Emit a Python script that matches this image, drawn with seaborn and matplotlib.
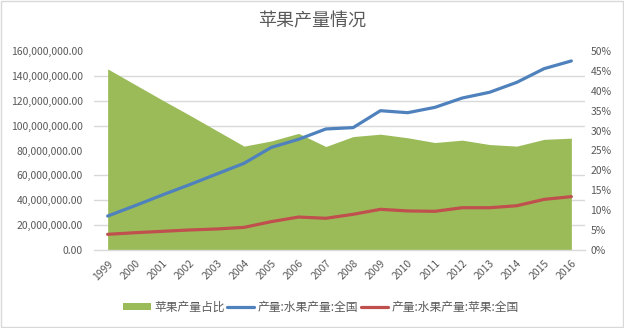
import matplotlib
matplotlib.use("Agg")
import matplotlib.pyplot as plt
import seaborn as sns
import numpy as np
from matplotlib.ticker import MultipleLocator, FuncFormatter, FixedLocator
from matplotlib.patches import Patch, Rectangle
from matplotlib.lines import Line2D

years = ["1999", "2000", "2001", "2002", "2003", "2004", "2005", "2006", "2007",
         "2008", "2009", "2010", "2011", "2012", "2013", "2014", "2015", "2016"]
# 产量:水果产量:全国
fruit_total = [27.3e6, 35.6e6, 44.2e6, 52.5e6, 61.1e6, 69.7e6, 82.5e6, 89.0e6, 97.3e6,
               98.4e6, 112.0e6, 110.4e6, 114.7e6, 122.2e6, 126.8e6, 134.8e6, 145.8e6, 152.0e6]
# 产量:水果产量:苹果:全国
apple = [12.6e6, 13.9e6, 15.0e6, 16.1e6, 16.9e6, 18.2e6, 22.8e6, 26.5e6, 25.5e6,
         28.7e6, 32.7e6, 31.4e6, 31.1e6, 34.0e6, 34.0e6, 35.6e6, 40.7e6, 42.9e6]
# 苹果产量占比 (%)
apple_share = [45.5, 41.6, 37.7, 33.9, 30.0, 26.1, 27.4, 29.3, 26.0,
               28.5, 29.1, 28.2, 27.0, 27.6, 26.5, 26.1, 27.8, 28.1]

title = "苹果产量情况"
labels = ["苹果产量占比", "产量:水果产量:全国", "产量:水果产量:苹果:全国"]

sns.set_theme(style="white")
plt.rcParams["font.family"] = ["Noto Sans CJK SC", "DejaVu Sans"]

GREEN = "#9BBB59"
BLUE = "#4F81BD"
RED = "#C0504D"
GRID = "#D9D9D9"
TXT = "#595959"

fig = plt.figure(figsize=(6.24, 3.28), dpi=100)
ax = fig.add_axes([94 / 624, 1 - 250 / 328, (585 - 94) / 624, (250 - 51) / 328])
ax2 = ax.twinx()
x = np.arange(len(years))

# area on primary axes (right-hand % scale)
ax.fill_between(x, 0, apple_share, color=GREEN, linewidth=0, zorder=2)
ax.set_ylim(0, 50)
ax.set_xlim(-0.5, len(years) - 0.5)
ax.yaxis.tick_right()
ax.yaxis.set_major_locator(MultipleLocator(5))
ax.yaxis.set_major_formatter(FuncFormatter(lambda v, p: f"{v:.0f}%"))
ax.yaxis.set_minor_locator(MultipleLocator(50 / 8))
ax.grid(False)
ax.grid(True, which="minor", axis="y", color=GRID, linewidth=1.0)
ax.set_axisbelow(True)
ax.tick_params(axis="y", which="both", length=0, labelsize=7.5, labelcolor=TXT, pad=4,
               left=False, labelleft=False, right=True, labelright=True)

ax.set_xticks(x)
ax.set_xticklabels(years, rotation=45, ha="right", rotation_mode="anchor")
ax.xaxis.set_minor_locator(FixedLocator(np.arange(-0.5, len(years), 1.0)))
ax.tick_params(axis="x", which="major", length=0, labelsize=7.5, labelcolor=TXT, pad=6)
ax.tick_params(axis="x", which="minor", length=5, color=GRID, width=1, direction="out")

for s in ["top", "left", "right"]:
    ax.spines[s].set_visible(False)
ax.spines["bottom"].set_color(GRID)
ax.spines["bottom"].set_linewidth(1.0)

# lines on twin axes (left-hand scale)
sns.lineplot(x=x, y=fruit_total, ax=ax2, color=BLUE, linewidth=2.3, legend=False)
sns.lineplot(x=x, y=apple, ax=ax2, color=RED, linewidth=2.3, legend=False)
ax2.set_ylim(0, 160e6)
ax2.set_xlim(-0.5, len(years) - 0.5)
ax2.yaxis.set_major_locator(MultipleLocator(20e6))
ax2.yaxis.set_major_formatter(FuncFormatter(lambda v, p: f"{v:,.2f}"))
ax2.tick_params(axis="y", length=0, labelsize=7.5, labelcolor=TXT, pad=8,
                left=True, labelleft=True, right=False, labelright=False)
ax2.set_ylabel("")
for s in ax2.spines.values():
    s.set_visible(False)
ax2.grid(False)

fig.suptitle(title, x=0.5, y=1 - 21 / 328, va="center", fontsize=13, color=TXT)

handles = [Patch(facecolor=GREEN, edgecolor="none"),
           Line2D([0], [0], color=BLUE, linewidth=2.3),
           Line2D([0], [0], color=RED, linewidth=2.3)]
fig.legend(handles, labels, loc="center", bbox_to_anchor=(321 / 624, 1 - 307 / 328), ncol=3,
           frameon=False, fontsize=8.5, labelcolor=TXT, handlelength=2.3, handleheight=0.6,
           handletextpad=0.3, columnspacing=0.2, borderaxespad=0)

fig.patches.append(Rectangle((0.0015, 0.002), 0.997, 0.995, transform=fig.transFigure,
                             fill=False, edgecolor=GRID, linewidth=1))

fig.savefig("out.png", dpi=100)
